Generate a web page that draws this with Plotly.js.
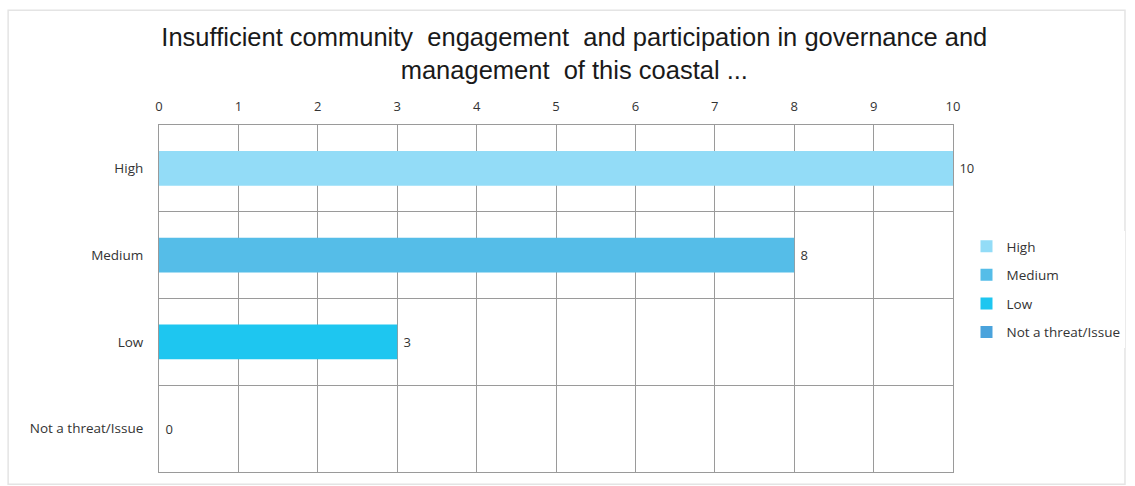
<!DOCTYPE html>
<html>
<head>
<meta charset="utf-8">
<script src="https://cdn.plot.ly/plotly-3.0.1.min.js"></script>
<style>html,body{margin:0;padding:0;background:#fff;}#chart{width:1135px;height:486px;}</style>
</head>
<body>
<div id="chart"></div>
<script>
const categories = ["High", "Medium", "Low", "Not a threat/Issue"];
const values = [10, 8, 3, 0];
const colors = ["#93dcf7", "#55bde8", "#1ec6f0", "#4aa3dc"];
const xTicks = [0, 1, 2, 3, 4, 5, 6, 7, 8, 9, 10];
const titleText = "Insufficient community  engagement  and participation in governance and<br>management  of this coastal ...";

const pad = "\u00a0";
const traces = categories.map((c, i) => ({
  type: "bar",
  orientation: "h",
  name: c,
  legendgroup: "g" + i,
  y: [c],
  x: [values[i]],
  width: 0.4,
  marker: {color: colors[i]},
  text: [pad + String(values[i])],
  textposition: "outside",
  cliponaxis: false,
  textfont: {family: "Open Sans, sans-serif", size: 13, color: "#333"},
  hoverinfo: "x+y"
}));

traces.push({
  type: "scatter", mode: "markers", x: [0], y: [0], yaxis: "y2",
  marker: {opacity: 0}, showlegend: false, hoverinfo: "skip"
});

const layout = {
  width: 1135, height: 486,
  paper_bgcolor: "#fff", plot_bgcolor: "#fff",
  margin: {l: 159, r: 182, t: 125, b: 14, autoexpand: false},
  title: {
    text: titleText,
    font: {family: "Liberation Sans, Arial, sans-serif", size: 25.5, color: "#1a1a1a"},
    x: 0.506, xanchor: "center", y: 0.905, yanchor: "top"
  },
  barmode: "overlay",
  showlegend: true,
  legend: {
    x: 1.017, xanchor: "left", y: 0.6945, yanchor: "top",
    font: {family: "Open Sans, sans-serif", size: 13.5, color: "#333"},
    tracegroupgap: 8, itemwidth: 30,
    traceorder: "grouped"
  },
  xaxis: {
    side: "top", range: [0, 10], tickvals: xTicks,
    showgrid: true, gridcolor: "#9a9a9a", gridwidth: 1,
    showline: true, linecolor: "#9a9a9a", mirror: true,
    zeroline: false, ticks: "", ticklabelstandoff: 8,
    tickfont: {family: "Open Sans, sans-serif", size: 13, color: "#333"},
    fixedrange: true
  },
  yaxis: {
    type: "category", categoryorder: "array", categoryarray: categories,
    autorange: "reversed",
    showgrid: false, showline: true, linecolor: "#9a9a9a", mirror: true,
    ticks: "", ticklabelstandoff: 12,
    tickfont: {family: "Open Sans, sans-serif", size: 13.5, color: "#333"},
    fixedrange: true
  },
  yaxis2: {
    overlaying: "y", range: [-0.5, 3.5], tickvals: [0.5, 1.5, 2.5],
    showticklabels: false, showgrid: true, gridcolor: "#9a9a9a", gridwidth: 1,
    zeroline: false, showline: false, ticks: "", fixedrange: true
  },
  shapes: [{
    type: "rect", xref: "paper", yref: "paper", layer: "below",
    x0: -0.19, x1: 1.2166, y0: -0.035, y1: 1.331,
    line: {color: "#e4e4e4", width: 1.5}
  }]
};

Plotly.newPlot("chart", traces, layout, {displayModeBar: false, staticPlot: true});
</script>
</body>
</html>
